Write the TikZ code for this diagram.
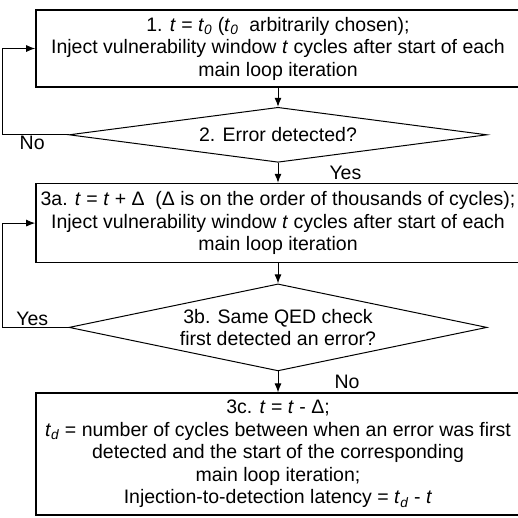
\documentclass[tikz,border=0pt]{standalone}
\usepackage{fontspec}
\setmainfont{Liberation Sans}
\usetikzlibrary{positioning}
\usetikzlibrary{shapes.geometric}
\usetikzlibrary{arrows.meta}
\newcommand{\ti}{\textit{t}}
\newcommand{\tsub}[1]{\textit{t}\textsubscript{\textit{#1}}}
\tikzset{
>={Latex[length=9pt,width=7pt]},
my node/.style={font=\fontsize{19.5}{22.5}\selectfont,align=center,inner xsep=1mm,inner ysep=0pt},
my step/.style={draw,my node,rectangle,line width=1.6pt,minimum width=484pt},
my check/.style={draw,my node,diamond,line width=1pt,minimum width=418pt,aspect=4.6,inner sep=0pt},
my label/.style={font=\fontsize{19.5}{22.5}\selectfont,inner sep=1pt},
flow/.style={x=1pt,y=1pt,line width=1pt}
}
\begin{document}
\begin{tikzpicture}[flow]
\useasboundingbox (0,0) rectangle (518,-517);
\node[my step,minimum height=77pt] (step1) at (278,-48.5)
  {1. \ti{} = \tsub{0} (\tsub{0}\ \ arbitrarily chosen);\\
   Inject vulnerability window \ti{} cycles after start of each\\
   main loop iteration};
\node[my check,minimum height=55pt] (check2) [below=19pt of step1] {2. Error detected?};
\node[my step,minimum height=79pt] (step3a) [below=20pt of check2]
  {3a. \ti{} = \ti{} + Δ\ \ (Δ is on the order of thousands of cycles);\\
   Inject vulnerability window \ti{} cycles after start of each\\
   main loop iteration};
\node[my check,minimum height=87pt] (check3b) [below=20pt of step3a]
  {3b. Same QED check\\first detected an error?};
\node[my step,minimum height=122pt] (step3c) [below=21pt of check3b]
  {3c. \ti{} = \ti{} - Δ;\\
   \tsub{d} = number of cycles between when an error was first\\
   detected and the start of the corresponding\\
   main loop iteration;\\
   Injection-to-detection latency = \tsub{d} - \ti};
\draw[->] (step1) -- (check2);
\draw[->] (check2) -- node[my label,right=50pt]{Yes} (step3a);
\draw[->] (step3a) -- (check3b);
\draw[->] (check3b) -- node[my label,right=55pt]{No} (step3c);
\draw[->] (check2.west) -- node[my label,below,pos=0.55]{No} ++(-66,0) |- (step1.west);
\draw[->] (check3b.west) -- node[my label,above,pos=0.55]{Yes} ++(-66,0) |- (step3a.west);
\end{tikzpicture}
\end{document}
